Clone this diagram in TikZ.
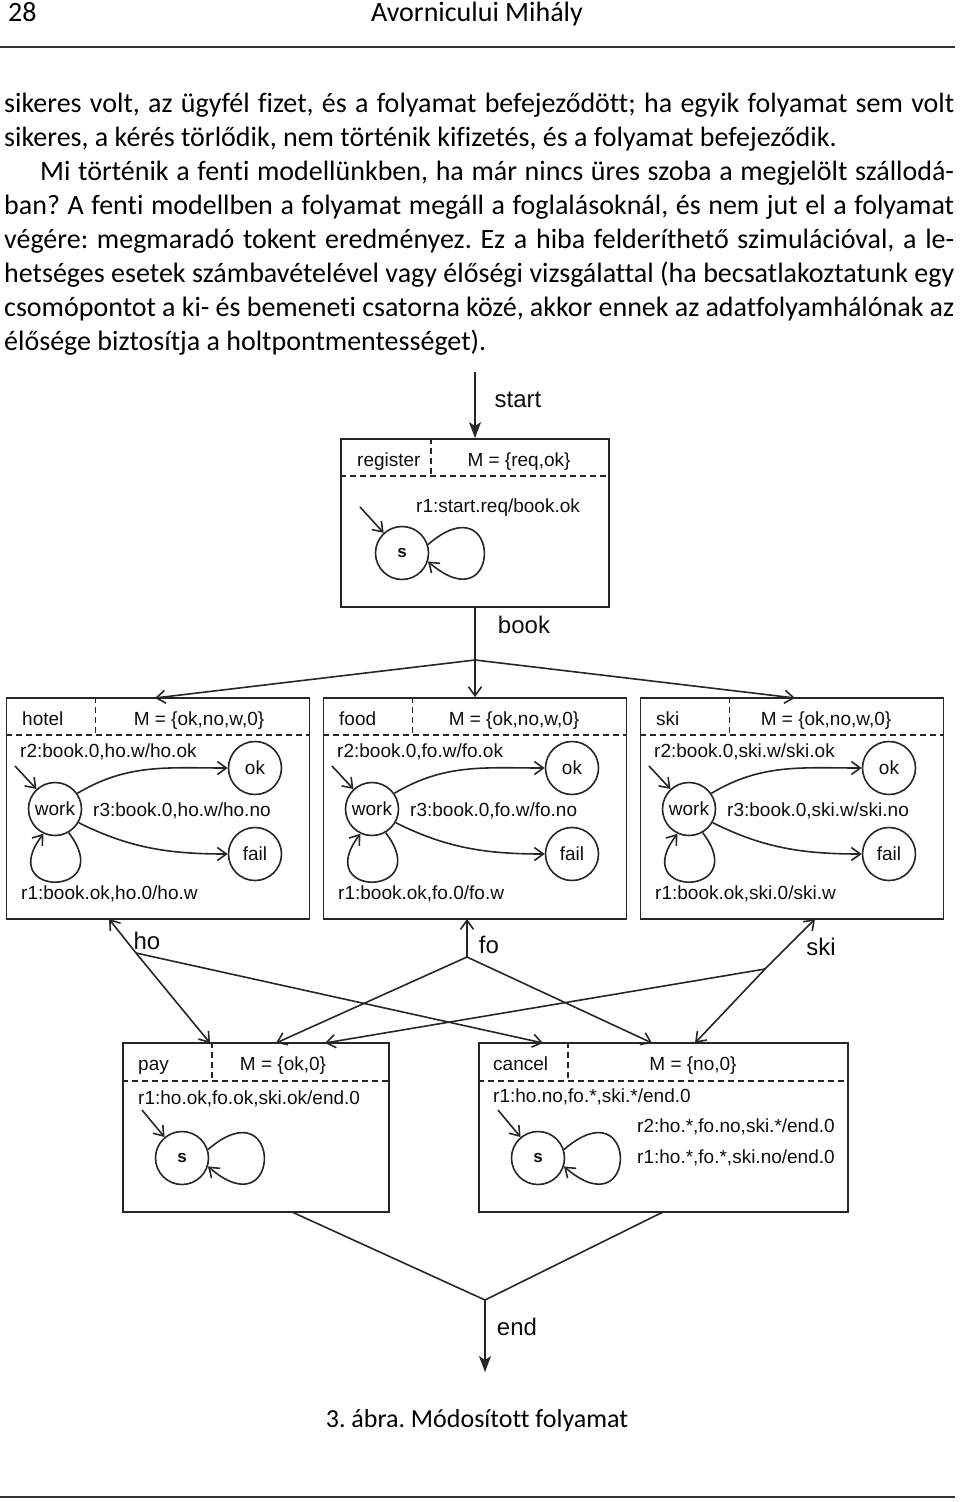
\documentclass[tikz,border=0pt]{standalone}
\usepackage{fontspec}
\setmainfont{Carlito}[Ligatures={TeX,NoCommon}]
\newfontfamily\diagfont{Liberation Sans}
\usetikzlibrary{arrows.meta}
\frenchspacing

\begin{document}
\begin{tikzpicture}[x=1pt, y=-1pt,
		body/.style={font=\fontsize{28}{34}\selectfont, inner sep=0pt},
		box/.style={draw=black!85, line width=1.8pt, minimum width=303pt, minimum height=221pt, inner sep=0pt},
		part/.style={draw=black!85, line width=1.5pt, dash pattern=on 6pt off 4pt},
		stnode/.style={draw=black!85, circle, line width=1.6pt, minimum size=53pt, inner sep=0pt, text=black!95, font=\diagfont\fontsize{19}{22}\selectfont},
		lbl/.style={inner sep=0pt, anchor=base west, text=black!95, font=\diagfont\fontsize{19}{22}\selectfont},
		flowlbl/.style={inner sep=0pt, text=black!95, font=\diagfont\fontsize{24}{28}\selectfont},
		link/.style={draw=black!85, line width=1.6pt},
		arr/.style={link, -{Straight Barb[length=9pt, width=13pt]}},
		flow/.style={link, -{Stealth[length=16pt, width=12pt, inset=4pt]}}]
	\useasboundingbox (0,0) rectangle (960,1502);

	% page head
	\node[body, anchor=base west] (pagenum) at (8,21) {28};
	\node[body, anchor=base] (runhead) at (477,21) {Avornicului Mihály};
	\draw[line width=2.6pt, black!80] (0,47) -- (955,47);

	% text above the figure
	\node[body, anchor=base west, text width=950pt, align=justify] (para) at (4,112)
		{\hyphenpenalty=10000
		sikeres volt, az ügyfél fizet, és a folyamat befejeződött; ha egyik folyamat sem volt\linebreak
		sikeres, a kérés törlődik, nem történik kifizetés, és a folyamat befejeződik.\par
		\hspace*{36pt}Mi történik a fenti modellünkben, ha már nincs üres szoba a megjelölt szállodá-\linebreak
		ban? A fenti modellben a folyamat megáll a foglalásoknál, és nem jut el a folyamat\linebreak
		végére: megmaradó tokent eredményez. Ez a hiba felderíthető szimulációval, a le-\linebreak
		hetséges esetek számbavételével vagy élőségi vizsgálattal (ha becsatlakoztatunk egy\linebreak
		csomópontot a ki- és bemeneti csatorna közé, akkor ennek az adatfolyamhálónak az\linebreak
		élősége biztosítja a holtpontmentességet).\par};

	% register
	\coordinate (start-pt) at (475,372);
	\node[box, minimum width=268pt, minimum height=168pt] (register) at (475,523) {};
	\draw[part] ([yshift=-38pt]register.north west) -- ([yshift=-38pt]register.north east);
	\draw[part] ([xshift=91pt]register.north west) -- ([xshift=91pt, yshift=-38pt]register.north west);
	\node[lbl] (register-name) at (357,466) {register};
	\node[lbl, anchor=base] (register-m) at (519,466) {M = \{req,ok\}};
	\node[lbl] (register-r1) at (416,512) {r1:start.req/book.ok};
	\node[stnode, font=\diagfont\bfseries\fontsize{17}{20}\selectfont] (register-s) at (402,553) {s};
	\coordinate (register-init) at (360,507);
	\draw[arr] (register-init) -- (register-s);
	\draw[arr] (register-s.18) .. controls +(75,-65) and +(75,65) .. (register-s.-18);
	\draw[flow] (start-pt) -- (register);
	\node[flowlbl] (start-lbl) at (518,400) {start};

	% hotel, food, ski
	\foreach \nm/\pre/\cx/\mx in {hotel/ho/158/199, food/fo/475/514, ski/ski/792/826}
	{
		\node[box] (\nm) at (\cx,808.5) {};
		\draw[part] ([yshift=-38pt]\nm.north west) -- ([yshift=-38pt]\nm.north east);
		\draw[part] ([xshift=90pt]\nm.north west) -- ([xshift=90pt, yshift=-38pt]\nm.north west);
		\node[lbl] (\nm-name) at (\cx-136,725) {\nm};
		\node[lbl, anchor=base] (\nm-m) at (\mx,725) {M = \{ok,no,w,0\}};
		\node[lbl] (\nm-r2) at (\cx-138,757) {r2:book.0,\pre.w/\pre.ok};
		\node[lbl] (\nm-r3) at (\cx-65,816) {r3:book.0,\pre.w/\pre.no};
		\node[lbl] (\nm-r1) at (\cx-137,899) {r1:book.ok,\pre.0/\pre.w};
		\node[stnode] (\nm-work) at (\cx-103,809) {work};
		\node[stnode] (\nm-ok) at (\cx+97,768) {ok};
		\node[stnode] (\nm-fail) at (\cx+97,854) {fail};
		\coordinate (\nm-init) at (\cx-143,766);
		\draw[arr] (\nm-init) -- (\nm-work);
		\draw[arr] (\nm-work.35) .. controls +(50,-30) and +(-60,0) .. (\nm-ok.west);
		\draw[arr] (\nm-work.-30) .. controls +(50,25) and +(-60,0) .. (\nm-fail.west);
		\draw[arr] (\nm-work.-60) .. controls +(50,65) and +(-50,65) .. (\nm-work.-115);
	}

	% book
	\coordinate (book-split) at (475,660);
	\coordinate (hotel-in) at (155,698);
	\coordinate (ski-in) at (795,698);
	\draw[arr] (register) -- (food);
	\draw[arr] (book-split) -- (hotel-in);
	\draw[arr] (book-split) -- (ski-in);
	\node[flowlbl] (book-lbl) at (524,625) {book};

	% pay
	\node[box, minimum width=266pt, minimum height=169pt] (pay) at (256,1127.5) {};
	\draw[part] ([yshift=-39pt]pay.north west) -- ([yshift=-39pt]pay.north east);
	\draw[part] ([xshift=90pt]pay.north west) -- ([xshift=90pt, yshift=-39pt]pay.north west);
	\node[lbl] (pay-name) at (138,1070) {pay};
	\node[lbl, anchor=base] (pay-m) at (283,1070) {M = \{ok,0\}};
	\node[lbl] (pay-r1) at (138,1104) {r1:ho.ok,fo.ok,ski.ok/end.0};
	\node[stnode, font=\diagfont\bfseries\fontsize{17}{20}\selectfont] (pay-s) at (182,1158) {s};
	\coordinate (pay-init) at (142,1110);
	\draw[arr] (pay-init) -- (pay-s);
	\draw[arr] (pay-s.18) .. controls +(75,-65) and +(75,65) .. (pay-s.-18);

	% cancel
	\node[box, minimum width=369pt, minimum height=169pt] (cancel) at (663.5,1127.5) {};
	\draw[part] ([yshift=-39pt]cancel.north west) -- ([yshift=-39pt]cancel.north east);
	\draw[part] ([xshift=90pt]cancel.north west) -- ([xshift=90pt, yshift=-39pt]cancel.north west);
	\node[lbl] (cancel-name) at (493,1070) {cancel};
	\node[lbl, anchor=base] (cancel-m) at (693,1070) {M = \{no,0\}};
	\node[lbl] (cancel-r1) at (493,1102) {r1:ho.no,fo.*,ski.*/end.0};
	\node[lbl] (cancel-r2) at (637,1132) {r2:ho.*,fo.no,ski.*/end.0};
	\node[lbl] (cancel-r3) at (637,1163) {r1:ho.*,fo.*,ski.no/end.0};
	\node[stnode, font=\diagfont\bfseries\fontsize{17}{20}\selectfont] (cancel-s) at (538,1158) {s};
	\coordinate (cancel-init) at (498,1110);
	\draw[arr] (cancel-init) -- (cancel-s);
	\draw[arr] (cancel-s.18) .. controls +(75,-65) and +(75,65) .. (cancel-s.-18);

	% ho, fo, ski
	\coordinate (ho-split) at (136,953);
	\coordinate (fo-split) at (467,957);
	\coordinate (ski-split) at (765,969);
	\coordinate (ho-up) at (109,919);
	\coordinate (fo-up) at (467,919);
	\coordinate (ski-up) at (815,919);
	\coordinate (pay-ho) at (210,1043);
	\coordinate (pay-fo) at (276,1043);
	\coordinate (pay-ski) at (325,1043);
	\coordinate (cancel-ho) at (543,1043);
	\coordinate (cancel-fo) at (652,1043);
	\coordinate (cancel-ski) at (695,1043);
	\foreach \s in {ho, fo, ski}
	{
		\draw[arr] (\s-split) -- (\s-up);
		\draw[arr] (\s-split) -- (pay-\s);
		\draw[arr] (\s-split) -- (cancel-\s);
	}
	\node[flowlbl] (ho-lbl) at (147,941) {ho};
	\node[flowlbl] (fo-lbl) at (489,945) {fo};
	\node[flowlbl] (ski-lbl) at (821,947) {ski};

	% end
	\coordinate (pay-out) at (292,1212);
	\coordinate (cancel-out) at (663,1212);
	\coordinate (end-join) at (485,1300);
	\coordinate (end-pt) at (485,1372);
	\draw[link] (pay-out) -- (end-join) -- (cancel-out);
	\draw[flow] (end-join) -- (end-pt);
	\node[flowlbl] (end-lbl) at (517,1327) {end};

	% caption and foot rule
	\node[body, anchor=base, font=\fontsize{26}{30}\selectfont] (caption) at (477,1427) {3. ábra. Módosított folyamat};
	\draw[line width=2.6pt, black!80] (0,1497) -- (955,1497);
\end{tikzpicture}
\end{document}
